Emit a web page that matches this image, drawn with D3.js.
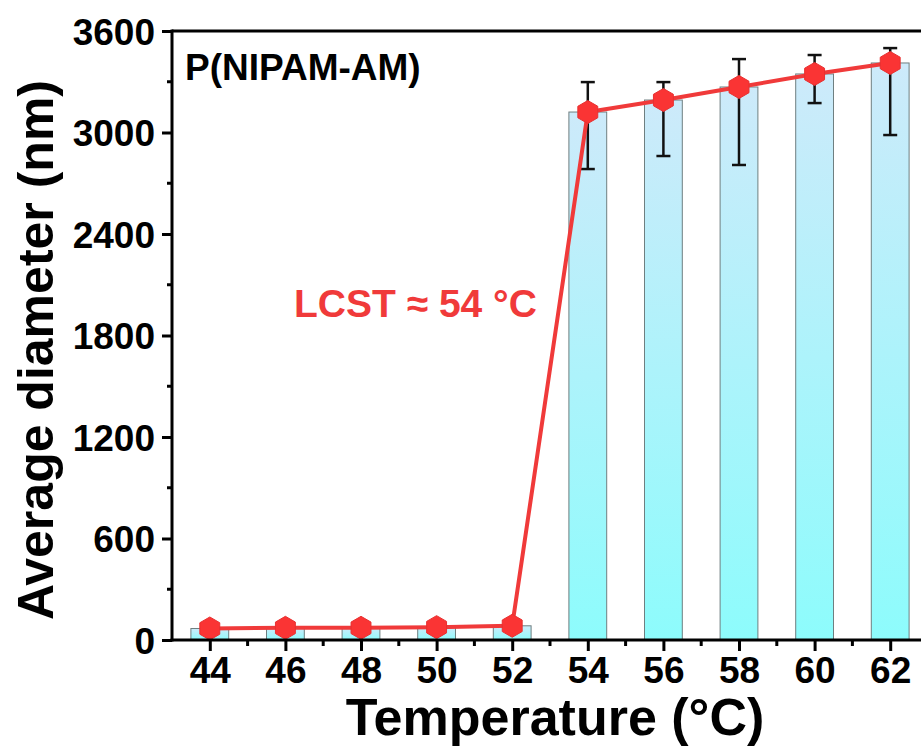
<!DOCTYPE html>
<html>
<head>
<meta charset="utf-8">
<script src="https://cdn.jsdelivr.net/npm/d3@7"></script>
<style>
  body { margin: 0; background: #fff; }
  svg { display: block; font-family: "Liberation Sans", Arial, sans-serif; font-weight: bold; }
</style>
</head>
<body>
<svg id="chart" width="921" height="754"></svg>
<script>
// data
const temps = [44, 46, 48, 50, 52, 54, 56, 58, 60, 62];
const diameters = [68, 72, 72, 76, 84, 3121, 3192, 3269, 3346, 3411];
const errUpper = [0, 0, 0, 0, 0, 3298, 3298, 3434, 3458, 3499];
const errLower = [0, 0, 0, 0, 0, 2784, 2861, 2808, 3174, 2985];
const yTicks = [0, 600, 1200, 1800, 2400, 3000, 3600];
const xTicks = [44, 46, 48, 50, 52, 54, 56, 58, 60, 62];

const margin = {left: 172, top: 31, bottom: 640, right: 928};

const svg = d3.select("#chart");

const x = d3.scaleLinear().domain([43, 63]).range([margin.left, margin.right]);
const y = d3.scaleLinear().domain([0, 3600]).range([margin.bottom, margin.top]);

// bar gradient
const defs = svg.append("defs");
const grad = defs.append("linearGradient")
  .attr("id", "barGrad")
  .attr("x1", 0).attr("y1", 0).attr("x2", 0).attr("y2", 1);
grad.append("stop").attr("offset", "0%").attr("stop-color", "#cdeafa");
grad.append("stop").attr("offset", "100%").attr("stop-color", "#8dfcfc");

const data = temps.map((t, i) => ({t: t, v: diameters[i], hi: errUpper[i], lo: errLower[i]}));

const barW = x(44) - x(43);

// bars
svg.append("g")
  .selectAll("rect")
  .data(data)
  .join("rect")
  .attr("x", d => x(d.t) - barW / 2)
  .attr("y", d => y(d.v))
  .attr("width", barW)
  .attr("height", d => y(0) - y(d.v))
  .attr("fill", "url(#barGrad)")
  .attr("stroke", "#6f7f80")
  .attr("stroke-width", 1);

// error bars
const eb = svg.append("g")
  .selectAll("g")
  .data(data.filter(d => d.hi > 0))
  .join("g")
  .attr("stroke", "#111")
  .attr("stroke-width", 2.5);
eb.append("line")
  .attr("x1", d => x(d.t)).attr("x2", d => x(d.t))
  .attr("y1", d => y(d.hi)).attr("y2", d => y(d.lo));
eb.append("line")
  .attr("x1", d => x(d.t) - 7).attr("x2", d => x(d.t) + 7)
  .attr("y1", d => y(d.hi)).attr("y2", d => y(d.hi));
eb.append("line")
  .attr("x1", d => x(d.t) - 7).attr("x2", d => x(d.t) + 7)
  .attr("y1", d => y(d.lo)).attr("y2", d => y(d.lo));

// line
const line = d3.line().x(d => x(d.t)).y(d => y(d.v));
svg.append("path")
  .datum(data)
  .attr("d", line)
  .attr("fill", "none")
  .attr("stroke", "#f03a3a")
  .attr("stroke-width", 4);

// hexagon markers
const hexR = 11.5;
const hex = d3.range(6).map(k => {
  const a = Math.PI / 3 * k - Math.PI / 2;
  return [hexR * Math.cos(a), hexR * Math.sin(a)];
});
svg.append("g")
  .selectAll("path")
  .data(data)
  .join("path")
  .attr("d", "M" + hex.join("L") + "Z")
  .attr("transform", d => "translate(" + x(d.t) + "," + y(d.v) + ")")
  .attr("fill", "#fa3434")
  .attr("stroke", "#e83030")
  .attr("stroke-width", 1);

// axes
const axisW = 3;
// top frame
svg.append("line")
  .attr("x1", margin.left).attr("x2", 921)
  .attr("y1", margin.top).attr("y2", margin.top)
  .attr("stroke", "#000").attr("stroke-width", axisW);

const yAxis = svg.append("g")
  .attr("transform", "translate(" + margin.left + ",0)")
  .call(d3.axisLeft(y).tickValues(yTicks).tickSize(10).tickPadding(7).tickFormat(d3.format("d")));
yAxis.select(".domain").attr("stroke-width", axisW).attr("d", "M0," + (margin.bottom + 1.5) + "V" + (margin.top - 1.5));
yAxis.selectAll(".tick line").attr("stroke-width", 3);
yAxis.selectAll(".tick text").attr("font-size", 37).attr("font-weight", "bold").attr("font-family", "Liberation Sans, Arial, sans-serif").attr("fill", "#000").attr("dy", "0.36em");

// y minor ticks
svg.append("g")
  .selectAll("line")
  .data(d3.range(300, 3600, 600))
  .join("line")
  .attr("x1", margin.left - 5).attr("x2", margin.left)
  .attr("y1", d => y(d)).attr("y2", d => y(d))
  .attr("stroke", "#000").attr("stroke-width", 3);

const xAxis = svg.append("g")
  .attr("transform", "translate(0," + margin.bottom + ")")
  .call(d3.axisBottom(x).tickValues(xTicks).tickSize(11).tickPadding(6).tickFormat(d3.format("d")));
xAxis.select(".domain").attr("stroke-width", axisW).attr("d", "M" + (margin.left - 1.5) + ",0H" + margin.right);
xAxis.selectAll(".tick line").attr("stroke-width", 3);
xAxis.selectAll(".tick text").attr("font-size", 37).attr("font-weight", "bold").attr("font-family", "Liberation Sans, Arial, sans-serif").attr("fill", "#000");

// x minor ticks
svg.append("g")
  .selectAll("line")
  .data(d3.range(45, 63, 2))
  .join("line")
  .attr("x1", d => x(d)).attr("x2", d => x(d))
  .attr("y1", margin.bottom).attr("y2", margin.bottom + 6)
  .attr("stroke", "#000").attr("stroke-width", 3);

// axis titles
svg.append("text")
  .attr("transform", "translate(53,350) rotate(-90)")
  .attr("text-anchor", "middle")
  .attr("font-size", 50)
  .text("Average diameter (nm)");

svg.append("text")
  .attr("x", 555)
  .attr("y", 735)
  .attr("text-anchor", "middle")
  .attr("font-size", 52)
  .text("Temperature (\u00B0C)");

// annotations
svg.append("text")
  .attr("x", 185)
  .attr("y", 80)
  .attr("font-size", 37)
  .text("P(NIPAM-AM)");

svg.append("text")
  .attr("x", 294)
  .attr("y", 317)
  .attr("font-size", 39)
  .attr("fill", "#f03a3a")
  .text("LCST \u2248 54 \u00B0C");
</script>
</body>
</html>
